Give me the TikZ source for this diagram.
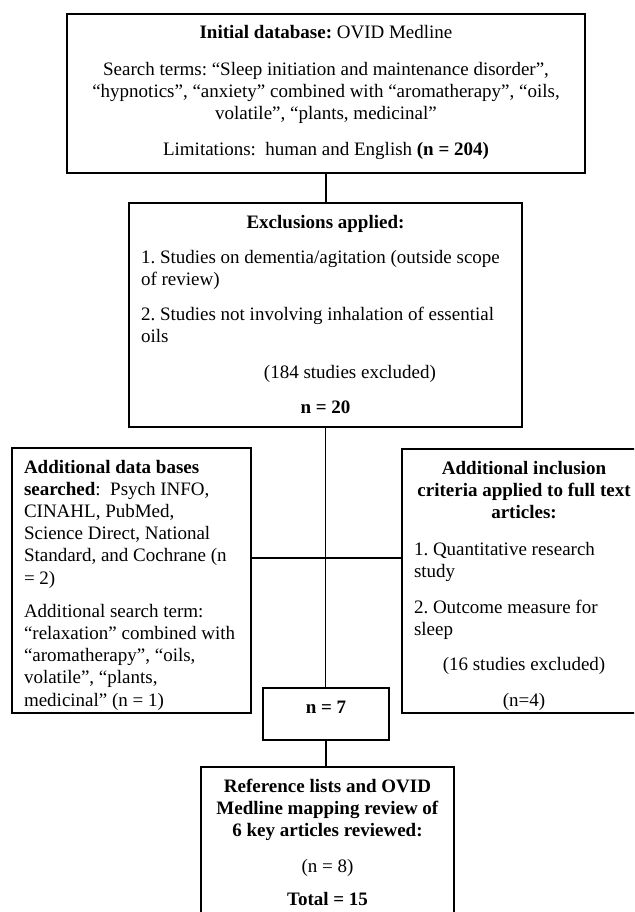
\documentclass[tikz,border=0pt]{standalone}
\usepackage{fontspec}
\setmainfont{Liberation Serif}
\usepackage{tikz}
\usetikzlibrary{positioning,calc}
\frenchspacing

\newcommand{\topstrut}{\rule{0pt}{25pt}}

\begin{document}
\begin{tikzpicture}[x=1pt,y=-1pt,
  flowbox/.style={draw,line width=2.2pt,anchor=north west,inner xsep=12pt,inner ysep=0pt,outer sep=0pt,
    font=\fontsize{19}{22.2}\selectfont},
  link/.style={line width=1.4pt}]
\useasboundingbox (0,0) rectangle (634,912);
\clip (0,0) rectangle (634,912);

% boxes
\node[flowbox] (initial) at (67,14) {\parbox[c][159pt][t]{494pt}{\centering
  \topstrut\textbf{Initial database:} OVID Medline\\[14pt]
  Search terms: “Sleep initiation and maintenance disorder”,\\
  “hypnotics”, “anxiety” combined with “aromatherapy”, “oils,\\
  volatile”, “plants, medicinal”\\[14pt]
  Limitations:\ \ human and English \textbf{(n = 204)}}};

\node[flowbox] (exclusion) at (129,203) {\parbox[c][224pt][t]{369pt}{\centering
  \topstrut\textbf{Exclusions applied:}\par\vspace{13pt}
  \raggedright 1. Studies on dementia/agitation (outside scope\\
  of review)\par\vspace{13pt}
  2. Studies not involving inhalation of essential\\
  oils\par\vspace{13pt}
  \centering\hspace*{49pt}(184 studies excluded)\par\vspace{13pt}
  \textbf{n = 20}}};

\node[flowbox] (leftsearch) at (12,448) {\parbox[c][265pt][t]{215pt}{\raggedright
  \topstrut\textbf{Additional data bases}\\
  \textbf{searched}:\ \ Psych INFO,\\
  CINAHL, PubMed,\\
  Science Direct, National\\
  Standard, and Cochrane (n\\
  = 2)\par\vspace{11pt}
  Additional search term:\\
  “relaxation” combined with\\
  “aromatherapy”, “oils,\\
  volatile”, “plants,\\
  medicinal” (n = 1)}};

\node[flowbox] (inclusion) at (402,449) {\parbox[c][264pt][t]{220pt}{\centering
  \topstrut\textbf{Additional inclusion}\\
  \textbf{criteria applied to full text}\\
  \textbf{articles:}\par\vspace{15pt}
  \raggedright 1. Quantitative research\\
  study\par\vspace{13pt}
  2. Outcome measure for\\
  sleep\par\vspace{13pt}
  \centering (16 studies excluded)\par\vspace{14pt}
  (n=4)}};

\node[flowbox] (n7) at (263,688) {\parbox[c][52pt][t]{102pt}{\centering
  \topstrut\textbf{n = 7}}};

\node[flowbox] (reference) at (201,767) {\parbox[c][170pt][t]{229pt}{\centering
  \topstrut\textbf{Reference lists and OVID}\\
  \textbf{Medline mapping review of}\\
  \textbf{6 key articles reviewed:}\par\vspace{14pt}
  (n = 8)\par\vspace{11pt}
  \textbf{Total = 15}}};

% connectors
\coordinate (junction) at (exclusion.south |- 0,558);
\draw[link] (initial.south) -- (initial.south |- exclusion.north);
\draw[link] (exclusion.south) -- (exclusion.south |- n7.north);
\draw[link] (junction -| leftsearch.east) -- (junction -| inclusion.west);
\draw[link] (n7.south) -- (n7.south |- reference.north);
\end{tikzpicture}
\end{document}
